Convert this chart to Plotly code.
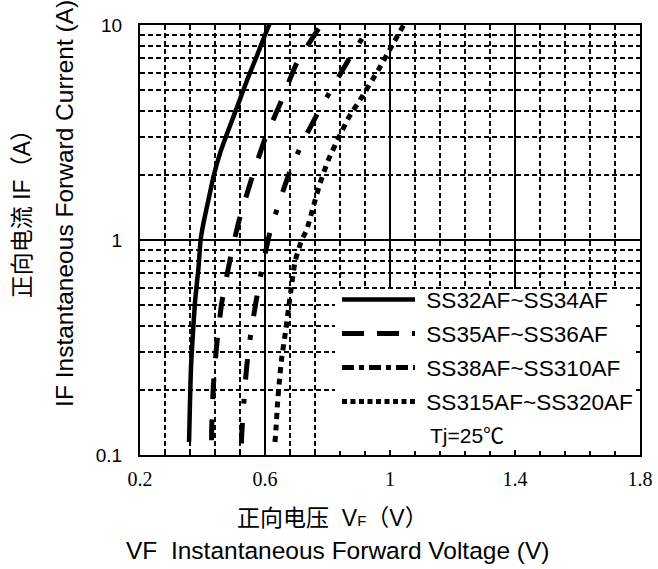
import plotly.graph_objects as go

# ---- data ----
s1_name = "SS32AF~SS34AF"
s1_v = [0.357, 0.360, 0.363, 0.369, 0.376, 0.387, 0.394, 0.403, 0.419, 0.435, 0.456, 0.483,
        0.515, 0.547, 0.573, 0.600, 0.623]
s1_i = [0.115, 0.177, 0.253, 0.361, 0.516, 0.739, 1.0, 1.196, 1.535, 1.97, 2.53, 3.25,
        4.32, 5.75, 7.12, 8.99, 10.86]

s2_name = "SS35AF~SS36AF"
s2_v = [0.429, 0.4294, 0.4346, 0.4454, 0.4614, 0.488, 0.5168, 0.5552, 0.5968, 0.6512,
        0.7014, 0.7546, 0.792]
s2_i = [0.117, 0.133, 0.208, 0.325, 0.508, 0.807, 1.23, 1.887, 2.87, 4.40,
        6.64, 8.82, 10.7]

s3_name = "SS38AF~SS310AF"
s3_v = [0.525, 0.5254, 0.5328, 0.5414, 0.5542, 0.5712, 0.5894, 0.6138, 0.6426, 0.6768,
        0.7174, 0.7654, 0.8186, 0.872, 0.9286]
s3_i = [0.113, 0.124, 0.180, 0.258, 0.364, 0.516, 0.725, 1.055, 1.456, 2.03,
        2.79, 3.81, 5.20, 7.07, 9.48]

s4_name = "SS315AF~SS320AF"
s4_v = [0.632, 0.6352, 0.6394, 0.6458, 0.6534, 0.664, 0.6746, 0.6854, 0.696, 0.7174,
        0.7334, 0.7546, 0.776, 0.8026, 0.8346, 0.8666, 0.9094, 0.9626, 1.0106, 1.0586]
s4_i = [0.115, 0.133, 0.168, 0.219, 0.282, 0.361, 0.472, 0.618, 0.792, 1.0,
        1.113, 1.43, 1.835, 2.355, 2.97, 3.68, 4.61, 6.18, 8.22, 10.93]

x_tickvals = [0.2, 0.6, 1.0, 1.4, 1.8]
x_ticktext = ["0.2", "0.6", "1", "1.4", "1.8"]
y_tickvals = [0.1, 1, 10]
y_ticktext = ["0.1", "1", "10"]

# name, V, I, dash on the curve, dash in the legend sample, width
series = [
    (s1_name, s1_v, s1_i, "solid", "solid", 4.5),
    (s2_name, s2_v, s2_i, "21px,20px", "22px,13px", 5),
    (s3_name, s3_v, s3_i, "21px,19px,5px,19px", "12px,5px,5px,5px", 5),
    (s4_name, s4_v, s4_i, "6px,5.5px", "5px,3.5px", 5),
]

fig = go.Figure()
for k, (name, v, i, dash, ldash, w) in enumerate(series):
    fig.add_trace(go.Scatter(
        x=v, y=i, mode="lines", name=name, showlegend=False, hoverinfo="x+y",
        line=dict(color="black", width=w, dash=dash, shape="spline", smoothing=0.5),
    ))
for k, (name, v, i, dash, ldash, w) in enumerate(series):
    # legend-only entry (no data) so the legend sample can use its own dash pattern
    fig.add_trace(go.Scatter(
        x=[None], y=[None], mode="lines", name=" " + name, legendgroup="g%d" % k,
        line=dict(color="black", width=w, dash=ldash),
    ))

SANS = "Liberation Sans, Arial, sans-serif"
SERIF = "Liberation Serif, serif"
MIX = "Liberation Sans, Noto Sans CJK SC, sans-serif"

fig.update_layout(
    width=658, height=569, autosize=False,
    margin=dict(l=140, r=18, t=25, b=114, autoexpand=False),
    paper_bgcolor="white", plot_bgcolor="white",
    showlegend=True,
    legend=dict(
        x=0.394, y=0.411, xanchor="left", yanchor="top",
        xref="paper", yref="paper",
        bgcolor="rgba(0,0,0,0)", borderwidth=0,
        font=dict(family=SANS, size=22.6, color="black"),
        itemwidth=73, tracegroupgap=1.6,
    ),
    xaxis=dict(
        range=[0.2, 1.8], tickmode="array", tickvals=x_tickvals, ticktext=x_ticktext,
        automargin=False,
        showgrid=True, gridcolor="black", gridwidth=1.5,
        showline=True, linecolor="black", linewidth=2, mirror="allticks",
        ticks="inside", ticklen=5, tickwidth=2, tickcolor="black",
        tickfont=dict(family=SERIF, size=20, color="black"),
        ticklabelstandoff=5,
        zeroline=False,
        minor=dict(tickmode="linear", tick0=0.2, dtick=0.08, showgrid=True,
                   gridcolor="black", gridwidth=1.5, griddash="5px,3px",
                   ticks="inside", ticklen=4, tickwidth=1.5, tickcolor="black"),
    ),
    yaxis=dict(
        type="log", range=[-1, 1], tickmode="array", tickvals=y_tickvals, ticktext=y_ticktext,
        automargin=False,
        showgrid=True, gridcolor="black", gridwidth=1.5,
        showline=True, linecolor="black", linewidth=2, mirror="allticks",
        ticks="inside", ticklen=5, tickwidth=2, tickcolor="black",
        tickfont=dict(family=SANS, size=19, color="black"),
        ticklabelstandoff=12,
        zeroline=False,
        minor=dict(dtick="D1", showgrid=True,
                   gridcolor="black", gridwidth=1.5, griddash="5px,3px",
                   ticks="inside", ticklen=4, tickwidth=1.5, tickcolor="black"),
    ),
    # white box behind the legend (covers the gridlines, stays under the axis ticks)
    shapes=[dict(type="rect", xref="x", yref="y", x0=0.824, x1=1.8, y0=0.1, y1=0.591,
                 fillcolor="white", line=dict(width=0), layer="between")],
    annotations=[
        dict(text="正向电流 IF（A）", xref="paper", yref="paper", x=-0.236, y=0.574,
             textangle=-90, showarrow=False, xanchor="center", yanchor="middle",
             font=dict(family=MIX, size=23, color="black")),
        dict(text="IF Instantaneous Forward Current (A)", xref="paper", yref="paper",
             x=-0.15, y=0.584, textangle=-90, showarrow=False, xanchor="center", yanchor="middle",
             font=dict(family=SANS, size=24.5, color="black")),
        dict(text="正向电压  V<span style='font-size:15px'>F</span>（V）", xref="paper", yref="paper",
             x=0.384, y=-0.1465, showarrow=False, xanchor="center", yanchor="middle",
             font=dict(family=MIX, size=23, color="black")),
        dict(text="VF  Instantaneous Forward Voltage (V)", xref="paper", yref="paper",
             x=0.396, y=-0.221, showarrow=False, xanchor="center", yanchor="middle",
             font=dict(family=SANS, size=24.5, color="black")),
        dict(text="Tj=25℃", xref="paper", yref="paper", x=0.654, y=0.0465,
             showarrow=False, xanchor="center", yanchor="middle",
             font=dict(family=MIX, size=21, color="black")),
    ],
)

fig.write_html(
    "out.html",
    config={"displayModeBar": False},
    post_script="document.body.style.margin='0';",
)
